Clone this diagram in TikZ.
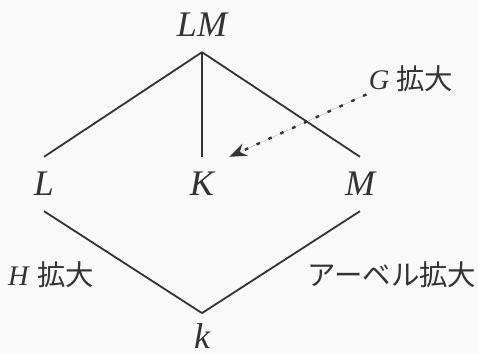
\documentclass[tikz,border=0pt]{standalone}
\usepackage{fontspec}
\usetikzlibrary{arrows.meta}
\setmainfont{Liberation Serif}
\newfontfamily\jp{Noto Sans CJK JP}
\definecolor{ink}{HTML}{333333}
\definecolor{paper}{HTML}{FAFAFA}

\begin{document}
\begin{tikzpicture}[x=0.5pt,y=-0.5pt,
 field/.style={inner sep=7.5pt,text=ink,font=\fontsize{18}{20}\selectfont\itshape},
 ext/.style={inner sep=1pt,text=ink,font=\fontsize{14.2}{16}\selectfont},
 edge/.style={draw=ink,line width=0.9pt},
 >={Stealth[length=8.5pt,width=6.5pt]}]
\fill[paper] (0,0) rectangle (478,354);
\useasboundingbox (0,0) rectangle (478,354);
\node[field] (LM) at (202,25) {LM};
\node[field] (L) at (44,184) {L};
\node[field] (K) at (202,184) {K};
\node[field] (M) at (360,184) {M};
\node[field,inner sep=5pt] (k) at (202,336) {k};
\node[ext] (gext) at (411,79) {\textit{G} {\jp 拡大}};
\node[ext] (hext) at (51,275) {\textit{H} {\jp 拡大}};
\node[ext] (aext) at (392,275) {\jp アーベル拡大};
\foreach \x/\y in {LM/L,LM/K,LM/M,L/k,M/k} \draw[edge] (\x.south)--(\y.north);
\draw[->,draw=ink,fill=ink,line width=1.2pt,dash pattern=on 1.8pt off 4.7pt] (gext.south west)--(K.north east);
\end{tikzpicture}
\end{document}
